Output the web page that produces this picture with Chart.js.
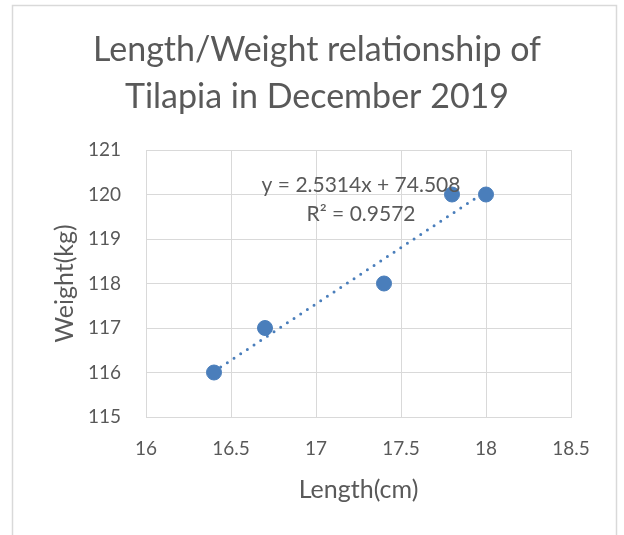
<!DOCTYPE html>
<html><head><meta charset="utf-8">
<script src="https://cdn.jsdelivr.net/npm/chart.js@4"></script>
<style>html,body{margin:0;padding:0;background:#fff}#wrap{width:624px;height:535px}</style>
</head><body><div id="wrap"><canvas id="c" width="624" height="535"></canvas></div>
<script>
const lengths = [16.4, 16.7, 17.4, 17.8, 18];
const weights = [116, 117, 118, 120, 120];
const trendSlope = 2.5314;
const trendIntercept = 74.508;
const trendRange = [16.4, 18];
const xTicks = [16, 16.5, 17, 17.5, 18, 18.5];
const yTicks = [115, 116, 117, 118, 119, 120, 121];
const titleLines = ['Length/Weight relationship of', 'Tilapia in December 2019'];
const equationLines = ['y = 2.5314x + 74.508', 'R\u00B2 = 0.9572'];
const xAxisTitle = 'Length(cm)';
const yAxisTitle = 'Weight(kg)';

const FONT = 'Lato';
const TXT = '#595959';
const GRID = '#d9d9d9';
const BLUE = '#4A7EBB';

const pts = lengths.map((x, i) => ({x, y: weights[i]}));
const trendPts = trendRange.map(x => ({x, y: trendSlope * x + trendIntercept}));

const frame = {
  id: 'frame',
  beforeDraw(chart) {
    const c = chart.ctx;
    c.save();
    c.fillStyle = '#fff';
    c.fillRect(0, 0, chart.width, chart.height);
    c.strokeStyle = GRID;
    c.lineWidth = 1.5;
    c.strokeRect(12.5, 5.5, 604, 600);
    c.restore();
  }
};
const eqLabel = {
  id: 'eqLabel',
  afterDatasetsDraw(chart, args, opts) {
    const c = chart.ctx, xs = chart.scales.x, ys = chart.scales.y;
    c.save();
    c.font = opts.size + 'px ' + FONT;
    c.fillStyle = TXT;
    c.textAlign = 'center';
    c.textBaseline = 'middle';
    opts.anchors.forEach((a, i) => {
      c.fillText(equationLines[i], xs.getPixelForValue(a[0]), ys.getPixelForValue(a[1]));
    });
    c.restore();
  }
};

new Chart(document.getElementById('c'), {
  type: 'scatter',
  data: {
    datasets: [
      {
        type: 'line',
        data: trendPts,
        borderColor: BLUE,
        borderWidth: 3,
        borderDash: [0, 8],
        borderCapStyle: 'round',
        pointRadius: 0,
        fill: false,
        order: 2
      },
      {
        data: pts,
        backgroundColor: BLUE,
        borderColor: BLUE,
        pointRadius: 7.5,
        pointHoverRadius: 7.5,
        order: 1
      }
    ]
  },
  options: {
    responsive: false,
    animation: false,
    devicePixelRatio: 1,
    layout: {padding: {left: 10, right: 0, top: 0, bottom: 0}},
    plugins: {
      legend: {display: false},
      tooltip: {enabled: false},
      title: {
        display: true,
        text: titleLines,
        color: TXT,
        font: {family: FONT, size: 34, weight: 'normal', lineHeight: 47 / 34},
        padding: {top: 26.5, bottom: 29.5}
      },
      eqLabel: {size: 21, anchors: [[17.265, 120.21], [17.265, 119.56]]}
    },
    scales: {
      x: {
        type: 'linear',
        min: 16, max: 18.5,
        afterFit(s) { s.height = 118; },
        afterBuildTicks(s) { s.ticks = xTicks.map(v => ({value: v})); },
        grid: {color: GRID, lineWidth: 1, drawTicks: false},
        border: {color: GRID, width: 1},
        ticks: {color: TXT, font: {family: FONT, size: 19}, padding: 20, maxRotation: 0,
          callback: v => String(v)},
        title: {display: true, text: xAxisTitle, color: TXT, font: {family: FONT, size: 25},
          padding: {top: 4, bottom: 30}}
      },
      y: {
        type: 'linear',
        min: 115, max: 121,
        afterFit(s) { s.width = 136; },
        afterBuildTicks(s) { s.ticks = yTicks.map(v => ({value: v})); },
        grid: {color: GRID, lineWidth: 1, drawTicks: false},
        border: {color: GRID, width: 1},
        ticks: {color: TXT, font: {family: FONT, size: 19}, padding: 25,
          callback: v => String(v)},
        title: {display: true, text: yAxisTitle, color: TXT, font: {family: FONT, size: 25},
          padding: {top: 40, bottom: 4}}
      },
      ySpacer: {
        type: 'linear',
        position: 'right',
        min: 115, max: 121,
        afterFit(s) { s.width = 53; },
        grid: {display: false, drawTicks: false},
        border: {display: false},
        ticks: {display: false}
      }
    }
  },
  plugins: [frame, eqLabel]
});
</script></body></html>
